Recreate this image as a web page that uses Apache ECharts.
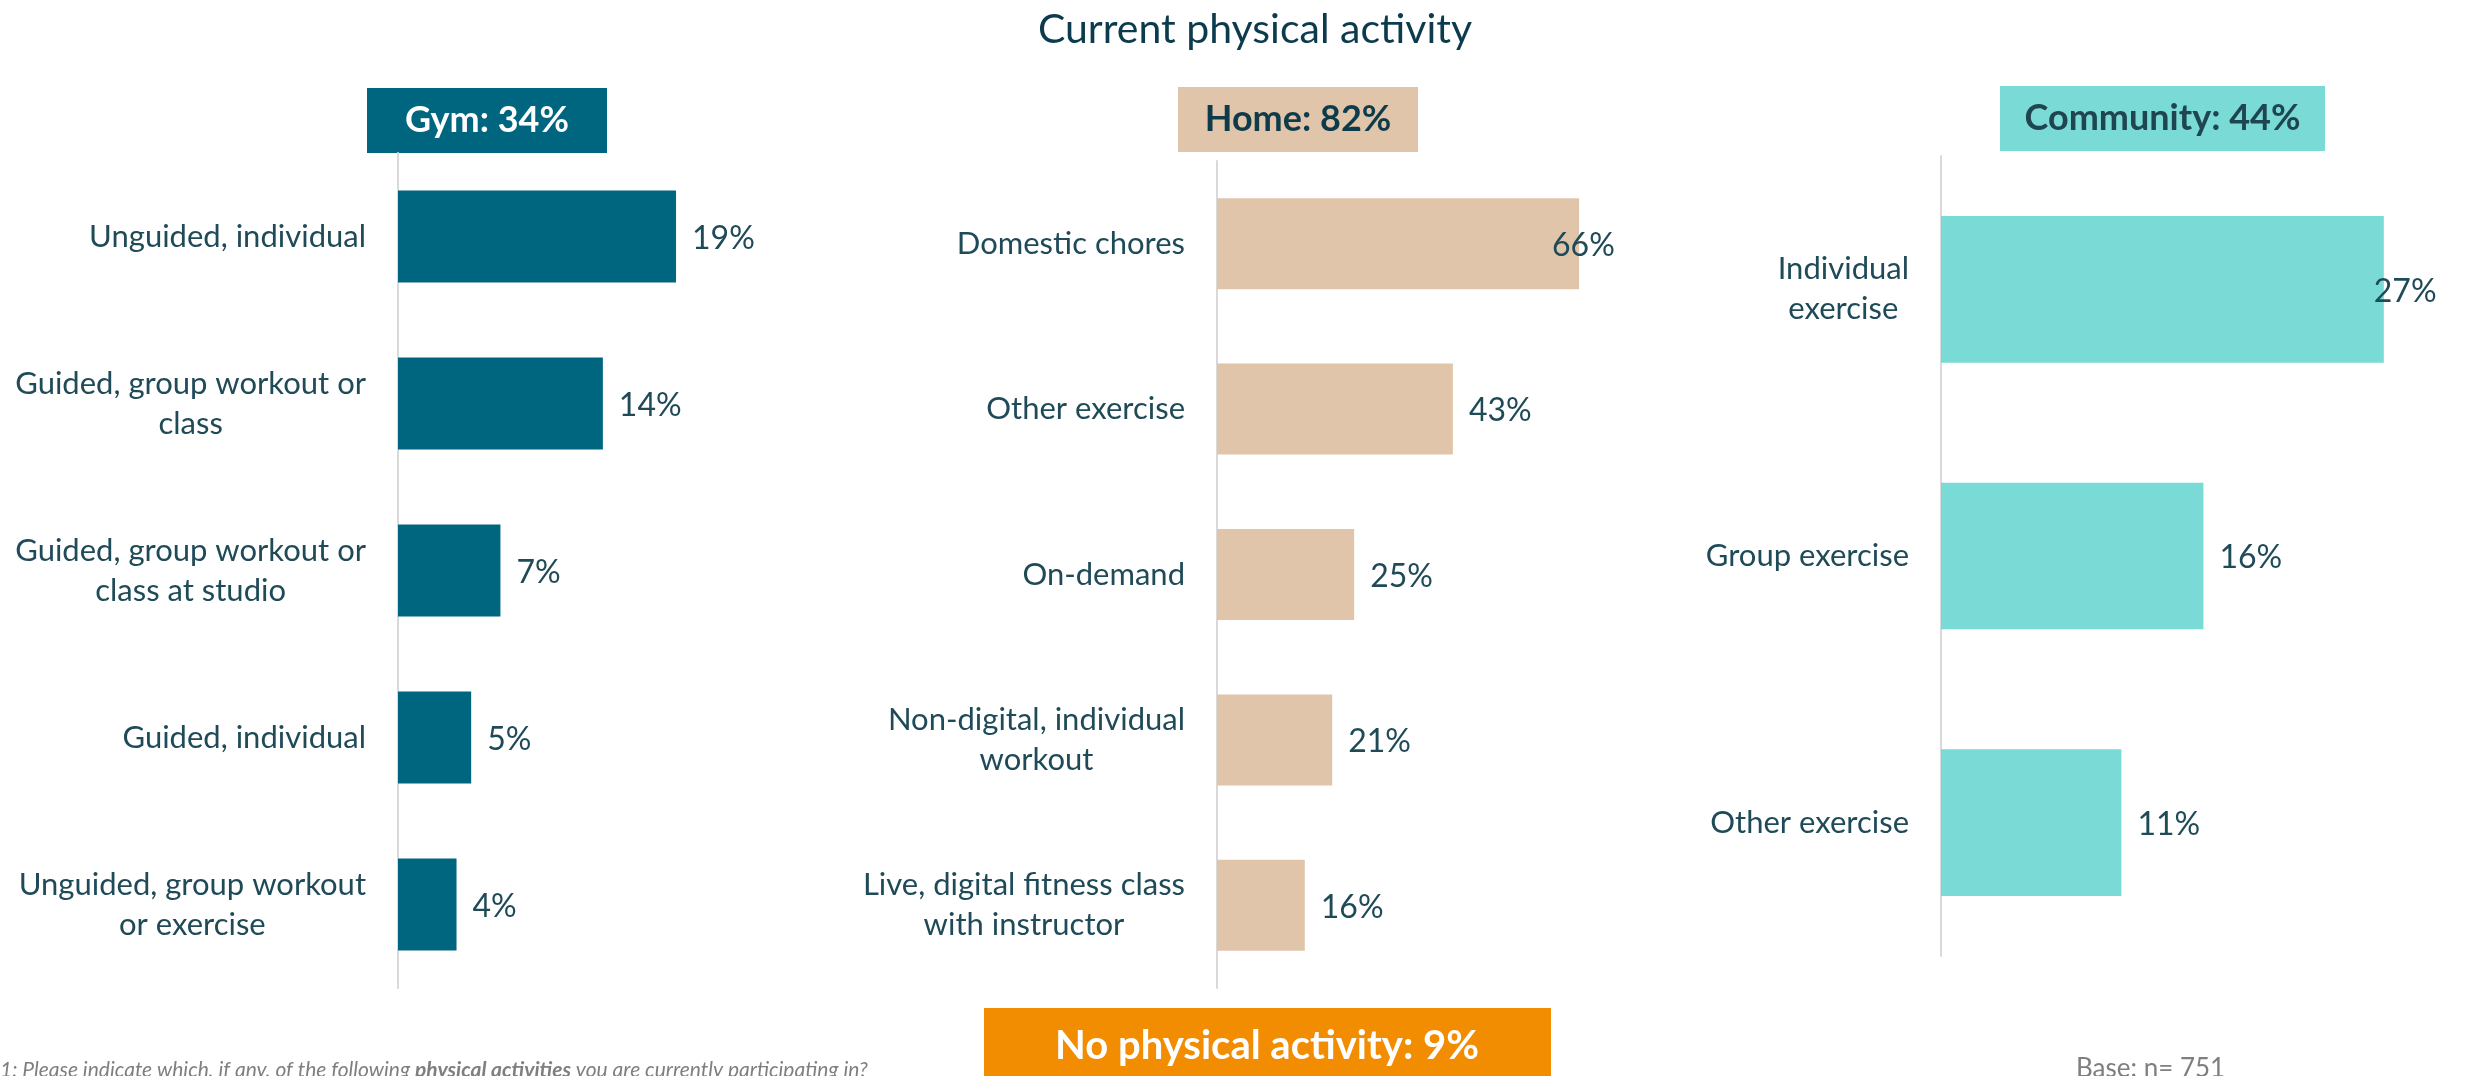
<!DOCTYPE html>
<html>
<head>
<meta charset="utf-8">
<script src="https://cdn.jsdelivr.net/npm/echarts@6/dist/echarts.min.js"></script>
<style>
  html, body { margin: 0; padding: 0; background: #ffffff; }
  #chart { width: 2466px; height: 1076px; }
</style>
</head>
<body>
<div id="chart"></div>
<script>
// Survey data: share of respondents per activity type (%)
const chartTitle = 'Current physical activity';

const gymCategories = [
  'Unguided, individual',
  'Guided, group workout or\nclass',
  'Guided, group workout or\nclass at studio',
  'Guided, individual',
  'Unguided, group workout\nor exercise'
];
const gymValues = [19, 14, 7, 5, 4];

const homeCategories = [
  'Domestic chores',
  'Other exercise',
  'On-demand',
  'Non-digital, individual\nworkout',
  'Live, digital fitness class\nwith instructor'
];
const homeValues = [66, 43, 25, 21, 16];

const communityCategories = [
  'Individual\nexercise',
  'Group exercise',
  'Other exercise'
];
const communityValues = [27, 16, 11];

const groupHeadings = ['Gym: 34%', 'Home: 82%', 'Community: 44%'];
const noActivityText = 'No physical activity: 9%';
const questionText = '1: Please indicate which, if any, of the following ';
const questionBold = 'physical activities';
const questionEnd = ' you are currently participating in?';
const baseText = 'Base: n= 751';

// ---- styling ----
const FONT = 'Lato, "Open Sans", sans-serif';
const TEXT_COLOR = '#1f4a57';
const AXIS_COLOR = '#d9d9d9';
const COLORS = ['#00667f', '#e0c5ab', '#7adad5'];

const panels = [
  { cats: gymCategories, vals: gymValues, color: COLORS[0], left: 398, top: 153, height: 835, max: 30, width: 439, shift: {} },
  { cats: homeCategories, vals: homeValues, color: COLORS[1], left: 1217, top: 161, height: 827, max: 70, width: 384, shift: { 0: -43 } },
  { cats: communityCategories, vals: communityValues, color: COLORS[2], left: 1941, top: 156, height: 800, max: 30, width: 492, shift: { 0: -26 } }
];

function wrapLines(value) {
  return value.split('\n').map(function (s) { return '{c|' + s + '}'; }).join('\n');
}

const grids = [], xAxes = [], yAxes = [], series = [];
panels.forEach(function (p, i) {
  grids.push({ left: p.left, top: p.top, width: p.width, height: p.height, containLabel: false });
  xAxes.push({
    type: 'value', gridIndex: i, min: 0, max: p.max, show: false,
    splitLine: { show: false }
  });
  yAxes.push({
    type: 'category', gridIndex: i, inverse: true, data: p.cats,
    axisLine: { show: true, lineStyle: { color: AXIS_COLOR, width: 2 } },
    axisTick: { show: false },
    splitLine: { show: false },
    axisLabel: {
      margin: 32,
      fontFamily: FONT, fontSize: 31, color: TEXT_COLOR, lineHeight: 40,
      align: 'right',
      formatter: wrapLines,
      rich: { c: { align: 'center', fontFamily: FONT, fontSize: 31, color: TEXT_COLOR, lineHeight: 40 } }
    }
  });
  series.push({
    type: 'bar', xAxisIndex: i, yAxisIndex: i,
    barWidth: '55%',
    itemStyle: { color: p.color },
    label: {
      show: true, position: 'right', distance: 16, offset: [0, 2],
      formatter: '{c}%', fontFamily: FONT, fontSize: 32, color: TEXT_COLOR
    },
    data: p.vals.map(function (v, k) {
      const item = { value: v };
      if (p.shift[k] !== undefined) item.label = { offset: [p.shift[k], 2] };
      return item;
    })
  });
});

// heading boxes above each panel
const headingBoxes = [
  { x: 367, y: 88, w: 240, h: 65, fill: COLORS[0], text: '#ffffff' },
  { x: 1178, y: 87, w: 240, h: 65, fill: COLORS[1], text: '#0e3b4a' },
  { x: 2000, y: 86, w: 325, h: 65, fill: COLORS[2], text: '#1f4550' }
];
const graphics = headingBoxes.map(function (b, i) {
  return {
    type: 'group', left: b.x, top: b.y,
    children: [
      { type: 'rect', shape: { x: 0, y: 0, width: b.w, height: b.h }, style: { fill: b.fill } },
      { type: 'text', x: b.w / 2, y: b.h / 2,
        style: { text: groupHeadings[i], fill: b.text, font: 'bold 36px ' + FONT, textAlign: 'center', textVerticalAlign: 'middle' } }
    ]
  };
});

graphics.push({
  type: 'group', left: 984, top: 1008,
  children: [
    { type: 'rect', shape: { x: 0, y: 0, width: 567, height: 80 }, style: { fill: '#f28c00' } },
    { type: 'text', x: 283, y: 38,
      style: { text: noActivityText, fill: '#ffffff', font: 'bold 40px ' + FONT, textAlign: 'center', textVerticalAlign: 'middle' } }
  ]
});

graphics.push({
  type: 'text', left: 0, top: 1060,
  style: {
    text: '{n|' + questionText + '}{b|' + questionBold + '}{n|' + questionEnd + '}',
    rich: {
      n: { font: 'italic 21px ' + FONT, fill: '#7f7f7f' },
      b: { font: 'italic bold 21px ' + FONT, fill: '#7f7f7f' }
    }
  }
});

graphics.push({
  type: 'text', left: 2076, top: 1056,
  style: { text: baseText, font: '26px ' + FONT, fill: '#7f7f7f' }
});

const chart = echarts.init(document.getElementById('chart'), null, { renderer: 'canvas' });
chart.setOption({
  backgroundColor: '#ffffff',
  animation: false,
  title: {
    text: chartTitle, left: 1250, top: 4, textAlign: 'center',
    textStyle: { fontFamily: FONT, fontSize: 41, fontWeight: 'normal', color: '#0b3b4c' }
  },
  grid: grids,
  xAxis: xAxes,
  yAxis: yAxes,
  series: series,
  graphic: graphics
});
</script>
</body>
</html>
